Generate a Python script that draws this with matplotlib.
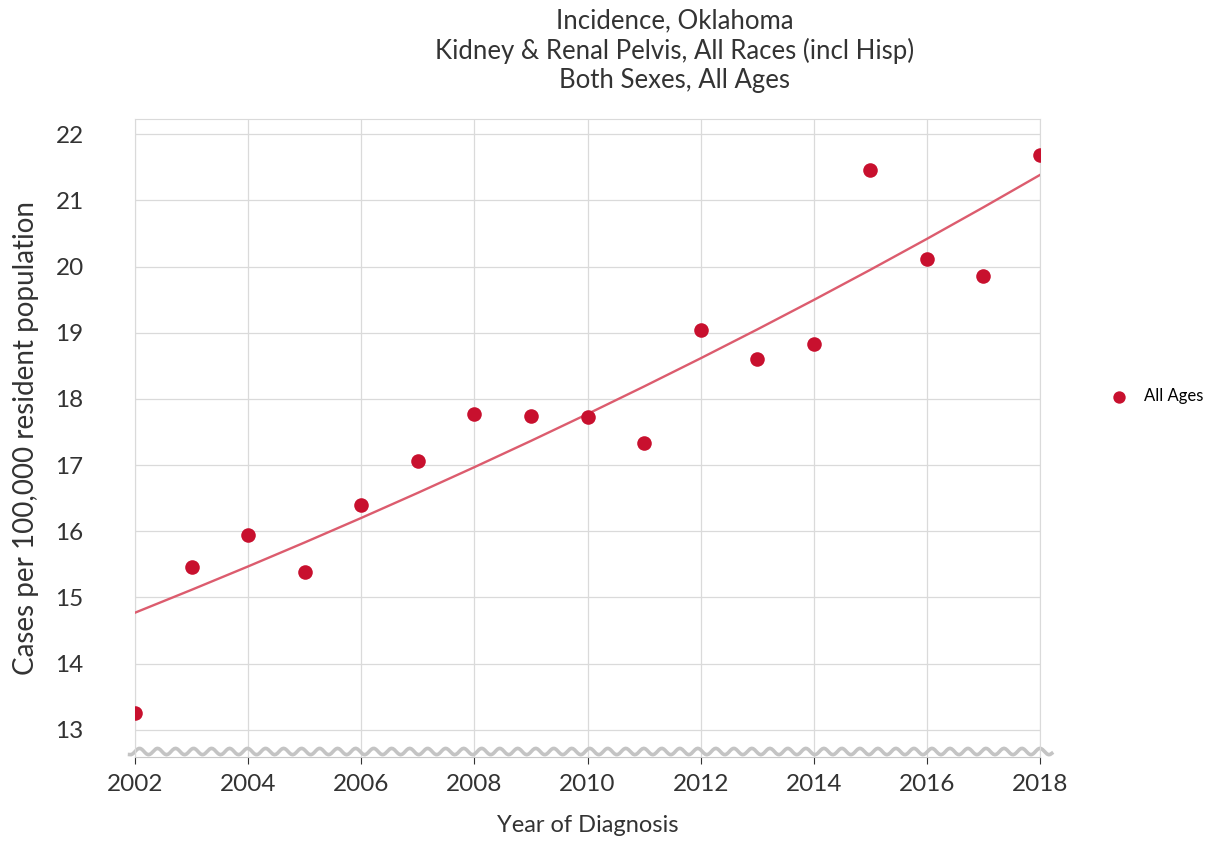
import numpy as np
import matplotlib.pyplot as plt

years = [2002, 2003, 2004, 2005, 2006, 2007, 2008, 2009, 2010,
         2011, 2012, 2013, 2014, 2015, 2016, 2017, 2018]
rates = [13.26, 15.46, 15.94, 15.39, 16.40, 17.06, 17.77, 17.74, 17.73,
         17.33, 19.04, 18.60, 18.83, 21.46, 20.11, 19.86, 21.68]

# fitted trend (annual percent change model)
trend_start = 14.77
trend_apc = 2.34

y_ticks = [13, 14, 15, 16, 17, 18, 19, 20, 21, 22]
x_ticks = [2002, 2004, 2006, 2008, 2010, 2012, 2014, 2016, 2018]

plt.rcParams['font.family'] = ['Lato', 'DejaVu Sans']

fig = plt.figure(figsize=(12.11, 8.42), dpi=100)
ax = fig.add_axes([0.1115, 0.101, 0.7473, 0.7577])

yrs = np.array(years)
trend = trend_start * (1 + trend_apc / 100) ** (yrs - yrs[0])
ax.plot(yrs, trend, color='#dc5c6e', lw=1.7, zorder=3)
ax.scatter(years, rates, s=110, color='#c8102e', zorder=4, label='All Ages',
           linewidths=0)

ax.set_xlim(2002, 2018)
ax.set_ylim(12.59, 22.23)
ax.set_xticks(x_ticks)
ax.set_yticks(y_ticks)
ax.grid(True, color='#dadada', lw=0.9)
ax.set_axisbelow(True)
for s in ['left', 'right', 'top']:
    ax.spines[s].set_color('#dadada')
ax.spines['bottom'].set_color('#c8c8c8')
ax.tick_params(axis='y', length=0, labelsize=17.5, labelcolor='#333333', pad=37)
ax.tick_params(axis='x', length=5, color='#333333', labelsize=17.5,
               labelcolor='#333333', pad=7)

# axis break squiggle
xs = np.linspace(-0.006, 1.013, 600)
ys = 0.0085 + 0.005 * np.sin(2 * np.pi * xs / 0.0199)
ax.plot(xs, ys, transform=ax.transAxes, color='#c4c4c4', lw=2.6,
        clip_on=False, zorder=2)

ax.set_xlabel('Year of Diagnosis', fontsize=17, color='#333333', labelpad=15)
ax.set_ylabel('Cases per 100,000 resident population', fontsize=20,
              color='#333333', labelpad=12)

fig.text(0.557, 0.99, 'Incidence, Oklahoma\nKidney & Renal Pelvis, All Races (incl Hisp)\nBoth Sexes, All Ages',
         ha='center', va='top', fontsize=18.5, color='#333333', linespacing=1.2)

ax.legend(loc='center left', bbox_to_anchor=(1.052, 0.565), frameon=False,
          fontsize=12, handletextpad=0.5, markerscale=0.85)

fig.savefig('out.png', dpi=100)
